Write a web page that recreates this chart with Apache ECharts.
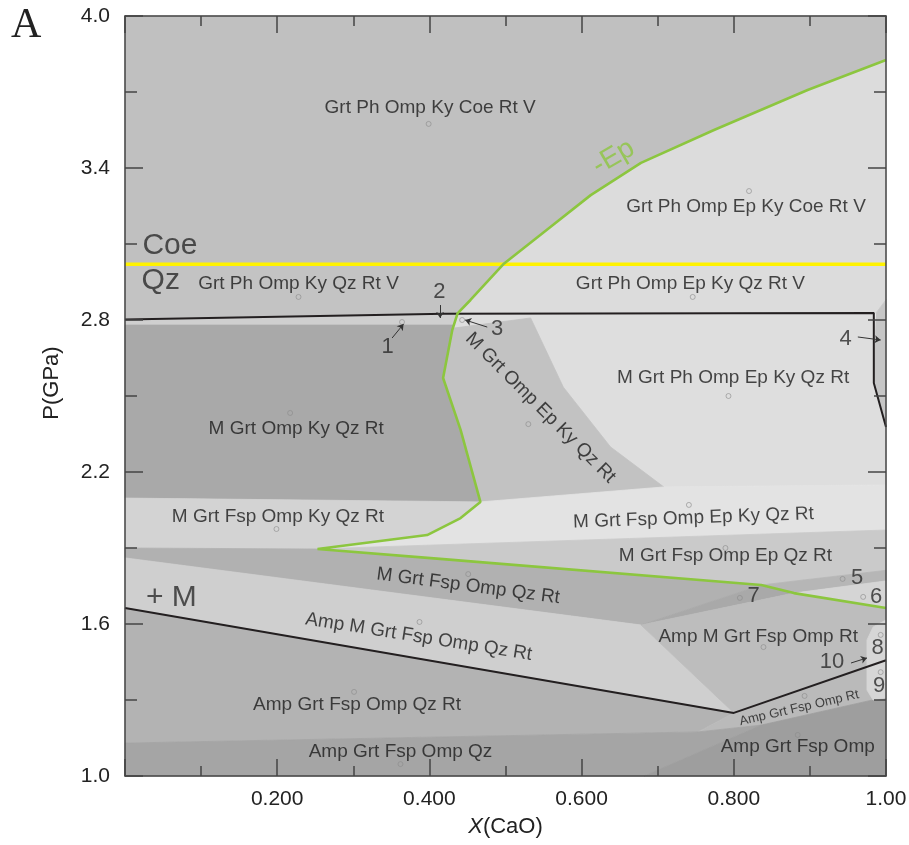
<!DOCTYPE html>
<html>
<head>
<meta charset="utf-8">
<script src="https://cdn.jsdelivr.net/npm/echarts@6/dist/echarts.min.js"></script>
<style>
  html, body { margin: 0; padding: 0; background: #fff; }
  #chart { width: 909px; height: 845px; }
</style>
</head>
<body>
<div id="chart"></div>
<script>
// axis ticks
const yTicks = [1.0, 1.6, 2.2, 2.8, 3.4, 4.0]
const yMinorTicks = [1.3, 1.9, 2.5, 3.1, 3.7]

// assemblage fields, vertices as [X(CaO), P(GPa)]
const fieldPolys = [
  [[0, 4], [1, 4], [1, 3.826], [0.897, 3.708], [0.774, 3.55], [0.678, 3.42], [0.612, 3.293], [0.559, 3.167], [0.497, 3.02], [0, 3.02]],
  [[1, 3.826], [0.897, 3.708], [0.774, 3.55], [0.678, 3.42], [0.612, 3.293], [0.559, 3.167], [0.497, 3.02], [1, 3.02]],
  [[0, 3.02], [0.497, 3.02], [0.454, 2.879], [0.437, 2.826], [0.42, 2.825], [0, 2.802]],
  [[0.497, 3.02], [1, 3.02], [1, 2.88], [0.987, 2.828], [0.437, 2.826], [0.454, 2.879]],
  [[0, 2.802], [0.42, 2.825], [0.437, 2.826], [0.432, 2.78], [0, 2.78]],
  [[0, 2.78], [0.432, 2.78], [0.418, 2.571], [0.441, 2.366], [0.467, 2.082], [0, 2.097]],
  [[0.437, 2.826], [0.984, 2.828], [0.984, 2.551], [1, 2.378], [1, 2.149], [0.708, 2.141], [0.467, 2.082], [0.441, 2.366], [0.418, 2.571], [0.43, 2.76]],
  [[0.432, 2.768], [0.533, 2.808], [0.576, 2.535], [0.638, 2.299], [0.708, 2.141], [0.467, 2.082], [0.441, 2.366], [0.418, 2.571], [0.43, 2.76]],
  [[0.467, 2.082], [0.708, 2.141], [1, 2.149], [1, 1.971], [0.326, 1.904], [0.253, 1.896], [0.397, 1.951], [0.441, 2.018]],
  [[0, 2.097], [0.467, 2.082], [0.441, 2.018], [0.397, 1.951], [0.253, 1.896], [0, 1.9]],
  [[0.253, 1.896], [0.326, 1.904], [1, 1.971], [1, 1.812], [0.836, 1.754], [0.414, 1.857]],
  [[0.836, 1.754], [1, 1.812], [1, 1.77], [0.879, 1.722]],
  [[0.879, 1.722], [1, 1.77], [1, 1.663]],
  [[0, 1.9], [0.253, 1.896], [0.414, 1.857], [0.836, 1.754], [0.678, 1.596], [0, 1.861]],
  [[0.678, 1.596], [0.836, 1.754], [0.879, 1.722]],
  [[0, 1.861], [0.678, 1.596], [0.8, 1.249], [0, 1.663]],
  [[0.678, 1.596], [0.879, 1.722], [1, 1.663], [1, 1.457], [0.8, 1.249]],
  [[0, 1.663], [0.8, 1.249], [0.753, 1.174], [0, 1.13]],
  [[0.8, 1.249], [1, 1.457], [1, 1.312], [0.836, 1.201], [0.753, 1.174]],
  [[0, 1.13], [0.753, 1.174], [0.836, 1.201], [0.682, 1.0], [0, 1.0]],
  [[0.682, 1.0], [0.836, 1.201], [1, 1.312], [1, 1.0]],
  [[1, 1.616], [0.983, 1.588], [0.975, 1.537], [0.975, 1.339], [0.983, 1.30], [1, 1.308]],
  [[1, 2.88], [0.987, 2.828], [0.984, 2.551], [1, 2.378]]
]
const fieldShades = [
  '#c0c0c0', '#dcdcdc', '#c3c3c3', '#dcdcdc', '#cfcfcf', '#a9a9a9', '#dedede', '#c2c2c2',
  '#e3e3e3', '#d3d3d3', '#cacaca', '#b6b6b6', '#d5d5d5', '#b1b1b1', '#a9a9a9', '#cfcfcf',
  '#bdbdbd', '#b3b3b3', '#bababa', '#a5a5a5', '#9e9e9e', '#d6d6d6', '#c6c6c6'
]

// reaction lines
const coeQzLine = [[0, 3.02], [1, 3.02]]
const epLine = [[1.0, 3.826], [0.897, 3.708], [0.774, 3.55], [0.678, 3.42], [0.612, 3.293], [0.559, 3.167],
  [0.497, 3.02], [0.454, 2.879], [0.437, 2.826], [0.43, 2.76], [0.418, 2.571], [0.441, 2.366], [0.467, 2.082],
  [0.441, 2.018], [0.397, 1.951], [0.253, 1.896], [0.414, 1.857], [0.836, 1.754], [0.879, 1.722], [1.0, 1.663]]
const meltOutLine = [[0, 2.802], [0.42, 2.825], [0.984, 2.828], [0.984, 2.551], [1, 2.378]]
const meltInLine = [[0, 1.663], [0.8, 1.249], [1, 1.457]]

// field labels: text, X, P, rotation
const fieldLabels = [
  ['Grt Ph Omp Ky Coe Rt V', 0.401, 3.637, 0],
  ['Grt Ph Omp Ep Ky Coe Rt V', 0.816, 3.246, 0],
  ['Grt Ph Omp Ky Qz Rt V', 0.228, 2.942, 0],
  ['Grt Ph Omp Ep Ky Qz Rt V', 0.743, 2.942, 0],
  ['M Grt Omp Ky Qz Rt', 0.225, 2.37, 0],
  ['M Grt Ph Omp Ep Ky Qz Rt', 0.799, 2.571, 0],
  ['M Grt Omp Ep Ky Qz Rt', 0.546, 2.453, -45],
  ['M Grt Fsp Omp Ky Qz Rt', 0.201, 2.022, 0],
  ['M Grt Fsp Omp Ep Ky Qz Rt', 0.747, 2.018, 2],
  ['M Grt Fsp Omp Ep Qz Rt', 0.789, 1.868, 0],
  ['M Grt Fsp Omp Qz Rt', 0.451, 1.75, -7.5],
  ['Amp M Grt Fsp Omp Qz Rt', 0.386, 1.549, -9],
  ['Amp Grt Fsp Omp Qz Rt', 0.305, 1.28, 0],
  ['Amp Grt Fsp Omp Qz', 0.362, 1.095, 0],
  ['Amp M Grt Fsp Omp Rt', 0.832, 1.549, 0],
  ['Amp Grt Fsp Omp', 0.884, 1.114, 0]
]
const tinyLabels = [['Amp Grt Fsp Omp Rt', 0.886, 1.268, 13]]
const fieldDots = [[0.399, 3.574], [0.82, 3.309], [0.228, 2.891], [0.746, 2.891], [0.217, 2.433], [0.793, 2.5],
  [0.53, 2.389], [0.199, 1.975], [0.741, 2.07], [0.789, 1.9], [0.451, 1.797], [0.387, 1.608], [0.301, 1.332],
  [0.362, 1.047], [0.839, 1.509], [0.893, 1.316], [0.884, 1.162], [0.943, 1.778], [0.97, 1.707], [0.808, 1.703],
  [0.364, 2.792], [0.443, 2.8], [0.993, 1.557], [0.993, 1.41]]
const smallFieldNums = [['1', 0.345, 2.693], ['2', 0.413, 2.911], ['3', 0.489, 2.764], ['4', 0.947, 2.725],
  ['5', 0.962, 1.782], ['6', 0.987, 1.707], ['7', 0.826, 1.711], ['8', 0.989, 1.505], ['9', 0.991, 1.355], ['10', 0.929, 1.45]]
const numArrows = [
  [[0.351, 2.729], [0.366, 2.784]],
  [[0.414, 2.859], [0.414, 2.808]],
  [[0.476, 2.772], [0.447, 2.8]],
  [[0.963, 2.733], [0.993, 2.721]],
  [[0.954, 1.446], [0.975, 1.466]]
]
const lineNames = [['Coe', 0.059, 3.092, 0], ['Qz', 0.047, 2.954, 0], ['+ M', 0.061, 1.703, 0]]
const epName = [['-Ep', 0.642, 3.443, 30]]

const FONT = 'Liberation Sans'
const AX = '#444'

function textSeries (items, style) {
  return {
    type: 'scatter',
    symbolSize: 1,
    itemStyle: { color: 'transparent' },
    silent: true,
    z: 10,
    data: items.map(d => ({ name: d[0], value: [d[1], d[2]], label: { rotate: d[3] || 0 } })),
    label: Object.assign({ show: true, position: 'inside', formatter: '{b}', fontFamily: FONT, color: '#1c1c1c' }, style)
  }
}

function lineSeries (pts, color, width) {
  return {
    type: 'line', data: pts, symbol: 'none', silent: true, z: 5,
    lineStyle: { color: color, width: width }
  }
}

const xBase = {
  type: 'value', min: 0, max: 1, interval: 0.2, z: 20,
  axisLine: { show: true, onZero: false, lineStyle: { color: AX, width: 1.5 } },
  axisTick: { inside: true, length: 17, lineStyle: { color: AX, width: 1.5 } },
  minorTick: { show: true, splitNumber: 2, length: 10, lineStyle: { color: AX, width: 1.5 } },
  splitLine: { show: false }
}

const option = {
  animation: false,
  title: { text: 'A', left: 6, top: 0, textStyle: { fontFamily: 'Liberation Serif', fontSize: 42, fontWeight: 'normal', color: '#222' } },
  grid: { left: 125, right: 23, top: 16, bottom: 69, containLabel: false, outerBoundsMode: 'none' },
  xAxis: [
    Object.assign({}, xBase, {
      position: 'bottom',
      axisLabel: { margin: 13, fontSize: 21, color: '#222', fontFamily: FONT,
        formatter: v => v === 0 ? '' : (v === 1 ? '1.00' : v.toFixed(3)) },
      name: '{i|X}(CaO)', nameLocation: 'middle', nameGap: 40,
      nameTextStyle: { fontSize: 22, color: '#222', fontFamily: FONT,
        rich: { i: { fontSize: 22, fontStyle: 'italic', color: '#222', fontFamily: FONT } } }
    }),
    Object.assign({}, xBase, { position: 'top', axisLabel: { show: false } })
  ],
  yAxis: [
    {
      type: 'value', min: 1, max: 4, z: 20, position: 'left',
      axisLine: { show: true, onZero: false, lineStyle: { color: AX, width: 1.5 } },
      axisTick: { show: false },
      axisLabel: { customValues: yTicks, margin: 15, fontSize: 21, color: '#222', fontFamily: FONT,
        formatter: v => v.toFixed(1) },
      splitLine: { show: false },
      name: 'P(GPa)', nameLocation: 'middle', nameRotate: 90, nameGap: 62,
      nameTextStyle: { fontSize: 22, color: '#222', fontFamily: FONT, padding: [0, 0, 0, 26] }
    },
    {
      type: 'value', min: 1, max: 4, z: 20, position: 'right',
      axisLine: { show: true, onZero: false, lineStyle: { color: AX, width: 1.5 } },
      axisTick: { show: false },
      axisLabel: { show: false },
      splitLine: { show: false }
    }
  ],
  series: [
    {
      type: 'custom',
      silent: true,
      z: 1,
      data: fieldPolys.map((p, i) => [p[0][0], p[0][1], i]),
      encode: { x: 0, y: 1 },
      renderItem: function (params, api) {
        const i = params.dataIndex
        const pts = fieldPolys[i].map(p => api.coord(p))
        return {
          type: 'polygon',
          shape: { points: pts },
          style: { fill: fieldShades[i], stroke: fieldShades[i], lineWidth: 0.8 }
        }
      }
    },
    lineSeries(coeQzLine, '#fff200', 3.5),
    lineSeries(meltOutLine, '#231f20', 2),
    lineSeries(meltInLine, '#231f20', 2),
    lineSeries(epLine, '#8cc63f', 2.6),
    {
      // inward P ticks on both frame sides, placed by the y scale
      type: 'custom',
      silent: true,
      z: 12,
      data: yTicks.concat(yMinorTicks).map(v => [0, v]),
      encode: { x: 0, y: 1 },
      renderItem: function (params, api) {
        const v = api.value(1)
        const y = api.coord([0, v])[1]
        const cs = params.coordSys
        const len = yTicks.some(t => Math.abs(t - v) < 1e-6) ? 18 : 12
        const st = { stroke: AX, lineWidth: 1.5 }
        return {
          type: 'group',
          children: [
            { type: 'line', shape: { x1: cs.x, y1: y, x2: cs.x + len, y2: y }, style: st },
            { type: 'line', shape: { x1: cs.x + cs.width, y1: y, x2: cs.x + cs.width - len, y2: y }, style: st }
          ]
        }
      }
    },
    {
      type: 'scatter', silent: true, z: 6, symbol: 'circle', symbolSize: 5,
      itemStyle: { color: 'transparent', borderColor: '#8c8c8c', borderWidth: 0.8 },
      data: fieldDots
    },
    {
      type: 'lines', coordinateSystem: 'cartesian2d', silent: true, z: 8,
      symbol: ['none', 'arrow'], symbolSize: 6,
      lineStyle: { color: '#333', width: 1, opacity: 1, curveness: 0 },
      data: numArrows.map(c => ({ coords: c }))
    },
    textSeries(fieldLabels, { fontSize: 19 }),
    textSeries(tinyLabels, { fontSize: 13 }),
    textSeries(smallFieldNums, { fontSize: 22, color: '#2a2a2a' }),
    textSeries(lineNames, { fontSize: 30, color: '#2a2a2a' }),
    textSeries(epName, { fontSize: 28, color: '#8cc63f' })
  ]
}

const chart = echarts.init(document.getElementById('chart'))
chart.setOption(option)
</script>
</body>
</html>
